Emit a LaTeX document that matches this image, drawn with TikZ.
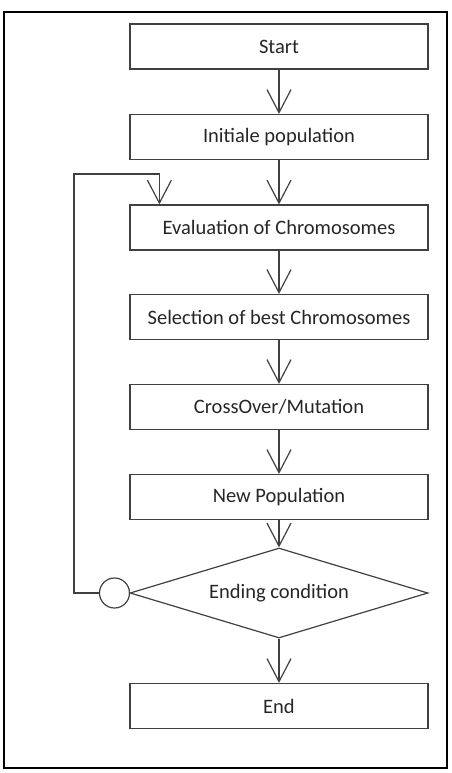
\documentclass[tikz,border=0pt]{standalone}
\usepackage{fontspec}
\setmainfont{Carlito}
\usetikzlibrary{arrows.meta,shapes.geometric}
\definecolor{linec}{HTML}{404040}
\definecolor{textc}{HTML}{262626}
\tikzset{
  stepbox/.style={draw=linec, line width=1.2pt, minimum width=298pt, minimum height=45pt, inner sep=0pt, text=textc, font=\fontsize{20.5}{24}\selectfont},
  decbox/.style={draw=linec, line width=1.2pt, shape=diamond, aspect=3.3, minimum width=298pt, minimum height=90pt, inner sep=0pt, text=textc, font=\fontsize{20.5}{24}\selectfont},
  joint/.style={draw=linec, line width=1.2pt, circle, minimum size=30pt, inner sep=0pt},
  arr/.style={draw=linec, line width=1.2pt, -{Straight Barb[length=23pt,width=24pt,line width=1.2pt]}},
  link/.style={draw=linec, line width=1.2pt}
}
\begin{document}
\begin{tikzpicture}[x=1pt,y=-1pt]
\useasboundingbox (0,0) rectangle (451,773);
\draw[black, line width=2pt] (4,12) rectangle (447,768);
\node[stepbox] (start) at (279,46.5) {Start};
\node[stepbox] (init) at (279,137) {Initiale population};
\node[stepbox] (eval) at (279,227.5) {Evaluation of Chromosomes};
\node[stepbox] (sel) at (279,317) {Selection of best Chromosomes};
\node[stepbox] (cross) at (279,407) {CrossOver/Mutation};
\node[stepbox] (newp) at (279,497) {New Population};
\node[decbox] (dec) at (279,593) {Ending condition};
\node[stepbox] (fin) at (279,706) {End};
\node[joint] (circ) at (114.5,593) {};
\coordinate (lp) at (74,174);
\draw[arr] (start) -- (init);
\draw[arr] (init) -- (eval);
\draw[arr] (eval) -- (sel);
\draw[arr] (sel) -- (cross);
\draw[arr] (cross) -- (newp);
\draw[arr] (newp) -- (dec);
\draw[arr] (dec) -- (fin);
\draw[arr] (circ.west) -| (lp) -| ([xshift=30pt]eval.north west);
\end{tikzpicture}
\end{document}
